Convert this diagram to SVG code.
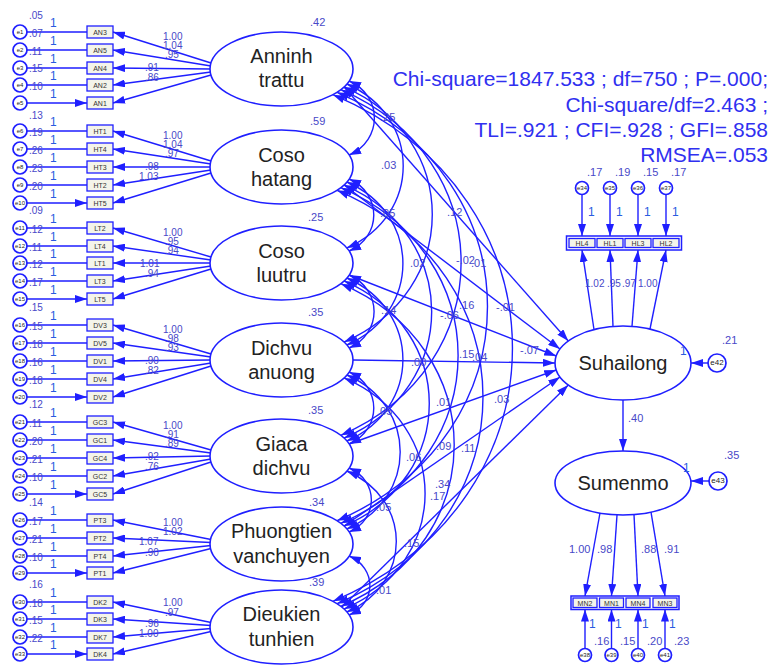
<svg xmlns="http://www.w3.org/2000/svg" width="770" height="667" viewBox="0 0 770 667">
<defs>
<marker id="ah" viewBox="0 0 12 8" refX="12" refY="4" markerWidth="12" markerHeight="8" markerUnits="userSpaceOnUse" orient="auto"><path d="M0,0 L12,4 L0,8 z" fill="#1f1fff"/></marker>
<marker id="ah2" viewBox="0 0 12 8" refX="12" refY="4" markerWidth="12" markerHeight="8" markerUnits="userSpaceOnUse" orient="auto-start-reverse"><path d="M0,0 L12,4 L0,8 z" fill="#1f1fff"/></marker>
</defs>
<style>
.ln{stroke:#1f1fff;stroke-width:1.4;fill:none}
.ar{marker-end:url(#ah)}
.cv{marker-start:url(#ah2);marker-end:url(#ah2)}
.lat{fill:#fff;stroke:#1f1fff;stroke-width:1.6}
.lt{font-family:"Liberation Sans",Arial,sans-serif;font-size:20px;fill:#222;text-anchor:middle}
.box{fill:#f4f4ea;stroke:#1f1fff;stroke-width:1.3}
.frm{fill:none;stroke:#1f1fff;stroke-width:1.5}
.bt{font-family:"Liberation Sans",Arial,sans-serif;font-size:7px;fill:#333;text-anchor:middle}
.err{fill:#fff;stroke:#1f1fff;stroke-width:1.7}
.et{font-family:"Liberation Sans",Arial,sans-serif;font-size:6px;fill:#222;text-anchor:middle}
.n{font-family:"Liberation Sans",Arial,sans-serif;font-size:11px;fill:#4848c8}
.s{font-size:10px}
.o{font-family:"Liberation Sans",Arial,sans-serif;font-size:12px;fill:#2a5ae0}
.fit{font-family:"Liberation Sans",Arial,sans-serif;font-size:21px;fill:#3030f0;text-anchor:end}
</style>
<rect width="770" height="667" fill="#fff"/>

<g id="connectors">
<path class="ln ar" d="M27,32H87M27,50H87M27,68H87M27,85H87M27,103H87"/>
<path class="ln ar" d="M27,131H87M27,149H87M27,167H87M27,185H87M27,203H87"/>
<path class="ln ar" d="M27,228H87M27,246H87M27,263H87M27,281H87M27,299H87"/>
<path class="ln ar" d="M27,325H87M27,343H87M27,361H87M27,379H87M27,397H87"/>
<path class="ln ar" d="M27,422H87M27,440H87M27,458H87M27,476H87M27,494H87"/>
<path class="ln ar" d="M27,520H87M27,538H87M27,556H87M27,573H87"/>
<path class="ln ar" d="M27,602H87M27,619H87M27,637H87M27,654H87"/>
<path class="ln ar" d="M211,63L113,32"/><path class="ln ar" d="M211,66L113,50"/><path class="ln ar" d="M211,69L113,68"/><path class="ln ar" d="M211,72L113,85"/><path class="ln ar" d="M211,75L113,103"/>
<path class="ln ar" d="M211,161L113,131"/><path class="ln ar" d="M211,164L113,149"/><path class="ln ar" d="M211,167L113,167"/><path class="ln ar" d="M211,170L113,185"/><path class="ln ar" d="M211,173L113,203"/>
<path class="ln ar" d="M211,257L113,228"/><path class="ln ar" d="M211,260L113,246"/><path class="ln ar" d="M211,263L113,263"/><path class="ln ar" d="M211,266L113,281"/><path class="ln ar" d="M211,269L113,299"/>
<path class="ln ar" d="M211,354L113,325"/><path class="ln ar" d="M211,357L113,343"/><path class="ln ar" d="M211,360L113,361"/><path class="ln ar" d="M211,363L113,379"/><path class="ln ar" d="M211,366L113,397"/>
<path class="ln ar" d="M211,450L113,422"/><path class="ln ar" d="M211,453L113,440"/><path class="ln ar" d="M211,456L113,458"/><path class="ln ar" d="M211,459L113,476"/><path class="ln ar" d="M211,462L113,494"/>
<path class="ln ar" d="M211,539.5L113,520"/><path class="ln ar" d="M211,542.5L113,538"/><path class="ln ar" d="M211,545.5L113,556"/><path class="ln ar" d="M211,548.5L113,573"/>
<path class="ln ar" d="M211,622.5L113,602"/><path class="ln ar" d="M211,625.5L113,619"/><path class="ln ar" d="M211,628.5L113,637"/><path class="ln ar" d="M211,631.5L113,654"/>
<path class="ln cv" d="M349.1,81C382.8,95.8 382.8,140.2 349.1,155"/>
<path class="ln cv" d="M349.1,179C382,193.4 382,236.6 349.1,251"/>
<path class="ln cv" d="M349.1,275C382.4,289.6 382.4,333.4 349.1,348"/>
<path class="ln cv" d="M349.1,372C382,386.4 382,429.6 349.1,444"/>
<path class="ln cv" d="M349.1,468C378.8,480.8 378.8,519.2 349.1,532"/>
<path class="ln cv" d="M349.1,556C376.8,567.8 376.8,603.2 349.1,615"/>
<path class="ln cv" d="M346.8,84C422,116.8 422,215.2 346.8,248"/>
<path class="ln cv" d="M346.8,182C421.6,214.6 421.6,312.4 346.8,345"/>
<path class="ln cv" d="M346.8,278C421.6,310.6 421.6,408.4 346.8,441"/>
<path class="ln cv" d="M346.8,375C418,405.8 418,498.2 346.8,529"/>
<path class="ln cv" d="M346.8,471C412.8,499.2 412.8,583.8 346.8,612"/>
<path class="ln cv" d="M344,86.9C461.7,137.9 461.7,291.1 344,342.1"/>
<path class="ln cv" d="M344,184.9C460.9,235.5 460.9,387.5 344,438.1"/>
<path class="ln cv" d="M344,280.9C457.7,329.9 457.7,477.1 344,526.1"/>
<path class="ln cv" d="M344,377.9C452.1,424.1 452.1,562.9 344,609.1"/>
<path class="ln cv" d="M340.8,89.7C501.2,158.8 501.2,366.2 340.8,435.3"/>
<path class="ln cv" d="M340.8,187.7C497.2,254.8 497.2,456.2 340.8,523.3"/>
<path class="ln cv" d="M340.8,283.7C492,348.2 492,541.8 340.8,606.3"/>
<path class="ln cv" d="M337.1,92.3C537.6,178 537.6,435 337.1,520.7"/>
<path class="ln cv" d="M337.1,190.3C531.6,273 531.6,521 337.1,603.7"/>
<path class="ln cv" d="M332.9,94.7C572.3,196 572.3,500 332.9,601.3"/>
<path class="ln ar" d="M344,87L568.3,341"/>
<path class="ln ar" d="M344,185L560,349"/>
<path class="ln ar" d="M349,275L556.2,356"/>
<path class="ln ar" d="M353,360L555,363"/>
<path class="ln ar" d="M349,444L556.2,370"/>
<path class="ln ar" d="M344,526L560,377"/>
<path class="ln ar" d="M342,607L568.3,385"/>
<path class="ln ar" d="M623,400V451"/>
<path class="ln ar" d="M594,329.5L582,250"/><path class="ln ar" d="M613,326.5L610,250"/><path class="ln ar" d="M632,326.3L638,250"/><path class="ln ar" d="M650,329L666,250"/>
<path class="ln ar" d="M582,194.5V236"/><path class="ln ar" d="M610,194.5V236"/><path class="ln ar" d="M638,194.5V236"/><path class="ln ar" d="M666,194.5V236"/>
<path class="ln ar" d="M600,513L585,596"/><path class="ln ar" d="M617,515L611.5,596"/><path class="ln ar" d="M634,514.6L638,596"/><path class="ln ar" d="M651,512.2L665,596"/>
<path class="ln ar" d="M585,648.5V609.5"/><path class="ln ar" d="M611.5,648.5V609.5"/><path class="ln ar" d="M638,648.5V609.5"/><path class="ln ar" d="M665,648.5V609.5"/>
<path class="ln ar" d="M708,363H691"/>
<path class="ln ar" d="M709,481H691"/>
</g>

<g id="latent-anninh"><ellipse class="lat" cx="281.5" cy="69" rx="71.5" ry="37"/><text class="lt" x="281.5" y="63">Anninh</text><text class="lt" x="281.5" y="87">trattu</text></g>
<g id="latent-cosohatang"><ellipse class="lat" cx="281.5" cy="167" rx="71.5" ry="37"/><text class="lt" x="281.5" y="162">Coso</text><text class="lt" x="281.5" y="186">hatang</text></g>
<g id="latent-cosoluutru"><ellipse class="lat" cx="281.5" cy="263" rx="71.5" ry="37"/><text class="lt" x="281.5" y="258">Coso</text><text class="lt" x="281.5" y="282">luutru</text></g>
<g id="latent-dichvu"><ellipse class="lat" cx="281.5" cy="360" rx="71.5" ry="37"/><text class="lt" x="281.5" y="355">Dichvu</text><text class="lt" x="281.5" y="379">anuong</text></g>
<g id="latent-giaca"><ellipse class="lat" cx="281.5" cy="456" rx="71.5" ry="37"/><text class="lt" x="281.5" y="451">Giaca</text><text class="lt" x="281.5" y="475">dichvu</text></g>
<g id="latent-phuongtien"><ellipse class="lat" cx="281.5" cy="544" rx="71.5" ry="37"/><text class="lt" x="281.5" y="538">Phuongtien</text><text class="lt" x="281.5" y="563">vanchuyen</text></g>
<g id="latent-dieukien"><ellipse class="lat" cx="281.5" cy="627" rx="71.5" ry="37"/><text class="lt" x="281.5" y="621">Dieukien</text><text class="lt" x="281.5" y="646">tunhien</text></g>
<g id="latent-suhailong"><ellipse class="lat" cx="623" cy="363" rx="68" ry="37"/><text class="lt" x="623" y="370">Suhailong</text></g>
<g id="latent-sumenmo"><ellipse class="lat" cx="623" cy="483" rx="68" ry="32"/><text class="lt" x="623" y="490">Sumenmo</text></g>

<g id="indicators-left">
<g id="AN3"><rect class="box" x="87" y="26" width="26" height="12"/><text class="bt" x="100" y="34.5">AN3</text></g>
<g id="AN5"><rect class="box" x="87" y="44" width="26" height="12"/><text class="bt" x="100" y="52.5">AN5</text></g>
<g id="AN4"><rect class="box" x="87" y="62" width="26" height="12"/><text class="bt" x="100" y="70.5">AN4</text></g>
<g id="AN2"><rect class="box" x="87" y="79" width="26" height="12"/><text class="bt" x="100" y="87.5">AN2</text></g>
<g id="AN1"><rect class="box" x="87" y="97" width="26" height="12"/><text class="bt" x="100" y="105.5">AN1</text></g>
<g id="HT1"><rect class="box" x="87" y="125" width="26" height="12"/><text class="bt" x="100" y="133.5">HT1</text></g>
<g id="HT4"><rect class="box" x="87" y="143" width="26" height="12"/><text class="bt" x="100" y="151.5">HT4</text></g>
<g id="HT3"><rect class="box" x="87" y="161" width="26" height="12"/><text class="bt" x="100" y="169.5">HT3</text></g>
<g id="HT2"><rect class="box" x="87" y="179" width="26" height="12"/><text class="bt" x="100" y="187.5">HT2</text></g>
<g id="HT5"><rect class="box" x="87" y="197" width="26" height="12"/><text class="bt" x="100" y="205.5">HT5</text></g>
<g id="LT2"><rect class="box" x="87" y="222" width="26" height="12"/><text class="bt" x="100" y="230.5">LT2</text></g>
<g id="LT4"><rect class="box" x="87" y="240" width="26" height="12"/><text class="bt" x="100" y="248.5">LT4</text></g>
<g id="LT1"><rect class="box" x="87" y="257" width="26" height="12"/><text class="bt" x="100" y="265.5">LT1</text></g>
<g id="LT3"><rect class="box" x="87" y="275" width="26" height="12"/><text class="bt" x="100" y="283.5">LT3</text></g>
<g id="LT5"><rect class="box" x="87" y="293" width="26" height="12"/><text class="bt" x="100" y="301.5">LT5</text></g>
<g id="DV3"><rect class="box" x="87" y="319" width="26" height="12"/><text class="bt" x="100" y="327.5">DV3</text></g>
<g id="DV5"><rect class="box" x="87" y="337" width="26" height="12"/><text class="bt" x="100" y="345.5">DV5</text></g>
<g id="DV1"><rect class="box" x="87" y="355" width="26" height="12"/><text class="bt" x="100" y="363.5">DV1</text></g>
<g id="DV4"><rect class="box" x="87" y="373" width="26" height="12"/><text class="bt" x="100" y="381.5">DV4</text></g>
<g id="DV2"><rect class="box" x="87" y="391" width="26" height="12"/><text class="bt" x="100" y="399.5">DV2</text></g>
<g id="GC3"><rect class="box" x="87" y="416" width="26" height="12"/><text class="bt" x="100" y="424.5">GC3</text></g>
<g id="GC1"><rect class="box" x="87" y="434" width="26" height="12"/><text class="bt" x="100" y="442.5">GC1</text></g>
<g id="GC4"><rect class="box" x="87" y="452" width="26" height="12"/><text class="bt" x="100" y="460.5">GC4</text></g>
<g id="GC2"><rect class="box" x="87" y="470" width="26" height="12"/><text class="bt" x="100" y="478.5">GC2</text></g>
<g id="GC5"><rect class="box" x="87" y="488" width="26" height="12"/><text class="bt" x="100" y="496.5">GC5</text></g>
<g id="PT3"><rect class="box" x="87" y="514" width="26" height="12"/><text class="bt" x="100" y="522.5">PT3</text></g>
<g id="PT2"><rect class="box" x="87" y="532" width="26" height="12"/><text class="bt" x="100" y="540.5">PT2</text></g>
<g id="PT4"><rect class="box" x="87" y="550" width="26" height="12"/><text class="bt" x="100" y="558.5">PT4</text></g>
<g id="PT1"><rect class="box" x="87" y="567" width="26" height="12"/><text class="bt" x="100" y="575.5">PT1</text></g>
<g id="DK2"><rect class="box" x="87" y="596" width="26" height="12"/><text class="bt" x="100" y="604.5">DK2</text></g>
<g id="DK3"><rect class="box" x="87" y="613" width="26" height="12"/><text class="bt" x="100" y="621.5">DK3</text></g>
<g id="DK7"><rect class="box" x="87" y="631" width="26" height="12"/><text class="bt" x="100" y="639.5">DK7</text></g>
<g id="DK4"><rect class="box" x="87" y="648" width="26" height="12"/><text class="bt" x="100" y="656.5">DK4</text></g>
</g>

<g id="errors-left">
<g id="e1"><circle class="err" cx="20" cy="32" r="7"/><text class="et" x="20" y="34">e1</text></g>
<g id="e2"><circle class="err" cx="20" cy="50" r="7"/><text class="et" x="20" y="52">e2</text></g>
<g id="e3"><circle class="err" cx="20" cy="68" r="7"/><text class="et" x="20" y="70">e3</text></g>
<g id="e4"><circle class="err" cx="20" cy="85" r="7"/><text class="et" x="20" y="87">e4</text></g>
<g id="e5"><circle class="err" cx="20" cy="103" r="7"/><text class="et" x="20" y="105">e5</text></g>
<g id="e6"><circle class="err" cx="20" cy="131" r="7"/><text class="et" x="20" y="133">e6</text></g>
<g id="e7"><circle class="err" cx="20" cy="149" r="7"/><text class="et" x="20" y="151">e7</text></g>
<g id="e8"><circle class="err" cx="20" cy="167" r="7"/><text class="et" x="20" y="169">e8</text></g>
<g id="e9"><circle class="err" cx="20" cy="185" r="7"/><text class="et" x="20" y="187">e9</text></g>
<g id="e10"><circle class="err" cx="20" cy="203" r="7"/><text class="et" x="20" y="205">e10</text></g>
<g id="e11"><circle class="err" cx="20" cy="228" r="7"/><text class="et" x="20" y="230">e11</text></g>
<g id="e12"><circle class="err" cx="20" cy="246" r="7"/><text class="et" x="20" y="248">e12</text></g>
<g id="e13"><circle class="err" cx="20" cy="263" r="7"/><text class="et" x="20" y="265">e13</text></g>
<g id="e14"><circle class="err" cx="20" cy="281" r="7"/><text class="et" x="20" y="283">e14</text></g>
<g id="e15"><circle class="err" cx="20" cy="299" r="7"/><text class="et" x="20" y="301">e15</text></g>
<g id="e16"><circle class="err" cx="20" cy="325" r="7"/><text class="et" x="20" y="327">e16</text></g>
<g id="e17"><circle class="err" cx="20" cy="343" r="7"/><text class="et" x="20" y="345">e17</text></g>
<g id="e18"><circle class="err" cx="20" cy="361" r="7"/><text class="et" x="20" y="363">e18</text></g>
<g id="e19"><circle class="err" cx="20" cy="379" r="7"/><text class="et" x="20" y="381">e19</text></g>
<g id="e20"><circle class="err" cx="20" cy="397" r="7"/><text class="et" x="20" y="399">e20</text></g>
<g id="e21"><circle class="err" cx="20" cy="422" r="7"/><text class="et" x="20" y="424">e21</text></g>
<g id="e22"><circle class="err" cx="20" cy="440" r="7"/><text class="et" x="20" y="442">e22</text></g>
<g id="e23"><circle class="err" cx="20" cy="458" r="7"/><text class="et" x="20" y="460">e23</text></g>
<g id="e24"><circle class="err" cx="20" cy="476" r="7"/><text class="et" x="20" y="478">e24</text></g>
<g id="e25"><circle class="err" cx="20" cy="494" r="7"/><text class="et" x="20" y="496">e25</text></g>
<g id="e26"><circle class="err" cx="20" cy="520" r="7"/><text class="et" x="20" y="522">e26</text></g>
<g id="e27"><circle class="err" cx="20" cy="538" r="7"/><text class="et" x="20" y="540">e27</text></g>
<g id="e28"><circle class="err" cx="20" cy="556" r="7"/><text class="et" x="20" y="558">e28</text></g>
<g id="e29"><circle class="err" cx="20" cy="573" r="7"/><text class="et" x="20" y="575">e29</text></g>
<g id="e30"><circle class="err" cx="20" cy="602" r="7"/><text class="et" x="20" y="604">e30</text></g>
<g id="e31"><circle class="err" cx="20" cy="619" r="7"/><text class="et" x="20" y="621">e31</text></g>
<g id="e32"><circle class="err" cx="20" cy="637" r="7"/><text class="et" x="20" y="639">e32</text></g>
<g id="e33"><circle class="err" cx="20" cy="654" r="7"/><text class="et" x="20" y="656">e33</text></g>
</g>

<g id="indicators-right">
<g id="HL-frame"><rect class="frm" x="566.5" y="236" width="115" height="14"/></g>
<g id="HL4"><rect class="box" x="569" y="238.5" width="26" height="9"/><text class="bt" x="582" y="245.5">HL4</text></g>
<g id="HL1"><rect class="box" x="597" y="238.5" width="26" height="9"/><text class="bt" x="610" y="245.5">HL1</text></g>
<g id="HL3"><rect class="box" x="625" y="238.5" width="26" height="9"/><text class="bt" x="638" y="245.5">HL3</text></g>
<g id="HL2"><rect class="box" x="653" y="238.5" width="26" height="9"/><text class="bt" x="666" y="245.5">HL2</text></g>
<g id="MN-frame"><rect class="frm" x="571" y="596" width="108" height="13.5"/></g>
<g id="MN2"><rect class="box" x="573" y="598" width="24" height="9.5"/><text class="bt" x="585" y="605.5">MN2</text></g>
<g id="MN1"><rect class="box" x="599.5" y="598" width="24" height="9.5"/><text class="bt" x="611.5" y="605.5">MN1</text></g>
<g id="MN4"><rect class="box" x="626" y="598" width="24" height="9.5"/><text class="bt" x="638" y="605.5">MN4</text></g>
<g id="MN3"><rect class="box" x="653" y="598" width="24" height="9.5"/><text class="bt" x="665" y="605.5">MN3</text></g>
</g>

<g id="errors-right">
<g id="e34"><circle class="err" cx="582" cy="188" r="6.5"/><text class="et" x="582" y="190">e34</text></g>
<g id="e35"><circle class="err" cx="610" cy="188" r="6.5"/><text class="et" x="610" y="190">e35</text></g>
<g id="e36"><circle class="err" cx="638" cy="188" r="6.5"/><text class="et" x="638" y="190">e36</text></g>
<g id="e37"><circle class="err" cx="666" cy="188" r="6.5"/><text class="et" x="666" y="190">e37</text></g>
<g id="e38"><circle class="err" cx="585" cy="655" r="6.5"/><text class="et" x="585" y="657">e38</text></g>
<g id="e39"><circle class="err" cx="611.5" cy="655" r="6.5"/><text class="et" x="611.5" y="657">e39</text></g>
<g id="e40"><circle class="err" cx="638" cy="655" r="6.5"/><text class="et" x="638" y="657">e40</text></g>
<g id="e41"><circle class="err" cx="665" cy="655" r="6.5"/><text class="et" x="665" y="657">e41</text></g>
<g id="e42"><circle class="err" cx="717" cy="363" r="9"/><text class="et" x="717" y="365" style="font-size:8px">e42</text></g>
<g id="e43"><circle class="err" cx="718" cy="481" r="9"/><text class="et" x="718" y="483" style="font-size:8px">e43</text></g>
</g>

<g id="labels">
<text class="n" x="310" y="26">.42</text><text class="n" x="310" y="125">.59</text><text class="n" x="308" y="221">.25</text><text class="n" x="308" y="316">.35</text><text class="n" x="308" y="414">.35</text><text class="n" x="309" y="506">.34</text><text class="n" x="309" y="586">.39</text>
<text class="n s" x="29" y="19">.05</text><text class="n s" x="29" y="37">.07</text><text class="n s" x="29" y="55">.11</text><text class="n s" x="29" y="72">.15</text><text class="n s" x="29" y="90">.10</text>
<text class="n s" x="29" y="119">.13</text><text class="n s" x="29" y="136">.19</text><text class="n s" x="29" y="154">.26</text><text class="n s" x="29" y="172">.23</text><text class="n s" x="29" y="190">.20</text>
<text class="n s" x="29" y="214">.09</text><text class="n s" x="29" y="233">.12</text><text class="n s" x="29" y="251">.11</text><text class="n s" x="29" y="268">.12</text><text class="n s" x="29" y="286">.17</text>
<text class="n s" x="29" y="311">.15</text><text class="n s" x="29" y="330">.15</text><text class="n s" x="29" y="348">.18</text><text class="n s" x="29" y="366">.16</text><text class="n s" x="29" y="384">.18</text>
<text class="n s" x="29" y="408">.12</text><text class="n s" x="29" y="427">.11</text><text class="n s" x="29" y="445">.20</text><text class="n s" x="29" y="463">.21</text><text class="n s" x="29" y="481">.10</text>
<text class="n s" x="29" y="506">.14</text><text class="n s" x="29" y="525">.17</text><text class="n s" x="29" y="543">.21</text><text class="n s" x="29" y="561">.10</text>
<text class="n s" x="29" y="588">.16</text><text class="n s" x="29" y="607">.18</text><text class="n s" x="29" y="624">.15</text><text class="n s" x="29" y="642">.22</text>
<text class="o" x="50" y="27">1</text><text class="o" x="50" y="45">1</text><text class="o" x="50" y="63">1</text><text class="o" x="50" y="80">1</text><text class="o" x="50" y="98">1</text>
<text class="o" x="50" y="126">1</text><text class="o" x="50" y="144">1</text><text class="o" x="50" y="162">1</text><text class="o" x="50" y="180">1</text><text class="o" x="50" y="198">1</text>
<text class="o" x="50" y="223">1</text><text class="o" x="50" y="241">1</text><text class="o" x="50" y="258">1</text><text class="o" x="50" y="276">1</text><text class="o" x="50" y="294">1</text>
<text class="o" x="50" y="320">1</text><text class="o" x="50" y="338">1</text><text class="o" x="50" y="356">1</text><text class="o" x="50" y="374">1</text><text class="o" x="50" y="392">1</text>
<text class="o" x="50" y="417">1</text><text class="o" x="50" y="435">1</text><text class="o" x="50" y="453">1</text><text class="o" x="50" y="471">1</text><text class="o" x="50" y="489">1</text>
<text class="o" x="50" y="515">1</text><text class="o" x="50" y="533">1</text><text class="o" x="50" y="551">1</text><text class="o" x="50" y="568">1</text>
<text class="o" x="50" y="597">1</text><text class="o" x="50" y="614">1</text><text class="o" x="50" y="632">1</text><text class="o" x="50" y="649">1</text>
<text class="n s" x="163" y="40">1.00</text><text class="n s" x="163" y="49">1.04</text><text class="n s" x="165" y="58">.95</text><text class="n s" x="145" y="71">.91</text><text class="n s" x="145" y="81">.86</text>
<text class="n s" x="163" y="139">1.00</text><text class="n s" x="163" y="148">1.04</text><text class="n s" x="165" y="157">.97</text><text class="n s" x="145" y="170">.98</text><text class="n s" x="139" y="180">1.03</text>
<text class="n s" x="163" y="236">1.00</text><text class="n s" x="165" y="245">.95</text><text class="n s" x="165" y="254">.94</text><text class="n s" x="140" y="267">1.01</text><text class="n s" x="145" y="277">.94</text>
<text class="n s" x="163" y="333">1.00</text><text class="n s" x="165" y="342">.98</text><text class="n s" x="165" y="351">.93</text><text class="n s" x="145" y="364">.90</text><text class="n s" x="145" y="374">.82</text>
<text class="n s" x="163" y="429">1.00</text><text class="n s" x="165" y="438">.91</text><text class="n s" x="165" y="447">.89</text><text class="n s" x="145" y="460">.92</text><text class="n s" x="145" y="470">.76</text>
<text class="n s" x="163" y="526">1.00</text><text class="n s" x="163" y="535">1.02</text><text class="n s" x="139" y="545">1.07</text><text class="n s" x="145" y="556">.90</text>
<text class="n s" x="163" y="606">1.00</text><text class="n s" x="165" y="616">.97</text><text class="n s" x="145" y="627">.96</text><text class="n s" x="139" y="637">1.00</text>
<text class="n" x="380" y="121">.25</text><text class="n" x="381" y="169">.03</text><text class="n" x="380" y="217">.05</text><text class="n" x="447" y="216">.12</text>
<text class="n" x="410" y="267">.02</text><text class="n" x="456" y="264">-.02</text><text class="n" x="471" y="267">.01</text>
<text class="n" x="381" y="314">.14</text><text class="n" x="459" y="309">.16</text><text class="n" x="440" y="319">-.06</text><text class="n" x="496" y="311">-.01</text>
<text class="n" x="411" y="366">.00</text><text class="n" x="459" y="358">.15</text><text class="n" x="472" y="361">.04</text><text class="n" x="520" y="354">-.07</text>
<text class="n" x="436" y="406">.01</text><text class="n" x="494" y="403">.03</text><text class="n" x="377" y="415">.05</text>
<text class="n" x="436" y="450">.09</text><text class="n" x="461" y="452">.11</text><text class="n" x="406" y="461">.06</text>
<text class="n" x="435" y="488">.34</text><text class="n" x="430" y="500">.17</text><text class="n" x="376" y="511">.05</text>
<text class="n" x="404" y="547">.15</text><text class="n" x="376" y="594">.01</text>
<text class="n" x="587" y="176">.17</text><text class="n" x="615" y="176">.19</text><text class="n" x="643" y="176">.15</text><text class="n" x="671" y="176">.17</text>
<text class="o" x="588" y="216">1</text><text class="o" x="616" y="216">1</text><text class="o" x="644" y="216">1</text><text class="o" x="672" y="216">1</text>
<text class="n s" x="585" y="287">1.02</text><text class="n s" x="607" y="287">.95</text><text class="n s" x="622" y="287">.97</text><text class="n s" x="638" y="287">1.00</text>
<text class="n" x="628" y="422">.40</text>
<text class="o" x="680" y="355">1</text><text class="n" x="722" y="344">.21</text>
<text class="o" x="683" y="472">1</text><text class="n" x="724" y="459">.35</text>
<text class="n" x="569" y="553">1.00</text><text class="n" x="597" y="553">.98</text><text class="n" x="641" y="553">.88</text><text class="n" x="664" y="553">.91</text>
<text class="o" x="589" y="628">1</text><text class="o" x="615" y="628">1</text><text class="o" x="642" y="628">1</text><text class="o" x="669" y="628">1</text>
<text class="n" x="594" y="645">.16</text><text class="n" x="620" y="645">.15</text><text class="n" x="647" y="645">.20</text><text class="n" x="674" y="645">.23</text>
</g>

<g id="fit-indices">
<text class="fit" x="768" y="86">Chi-square=1847.533 ; df=750 ; P=.000;</text>
<text class="fit" x="768" y="112">Chi-square/df=2.463 ;</text>
<text class="fit" x="768" y="137">TLI=.921 ; CFI=.928 ; GFI=.858</text>
<text class="fit" x="768" y="162">RMSEA=.053</text>
</g>
</svg>
